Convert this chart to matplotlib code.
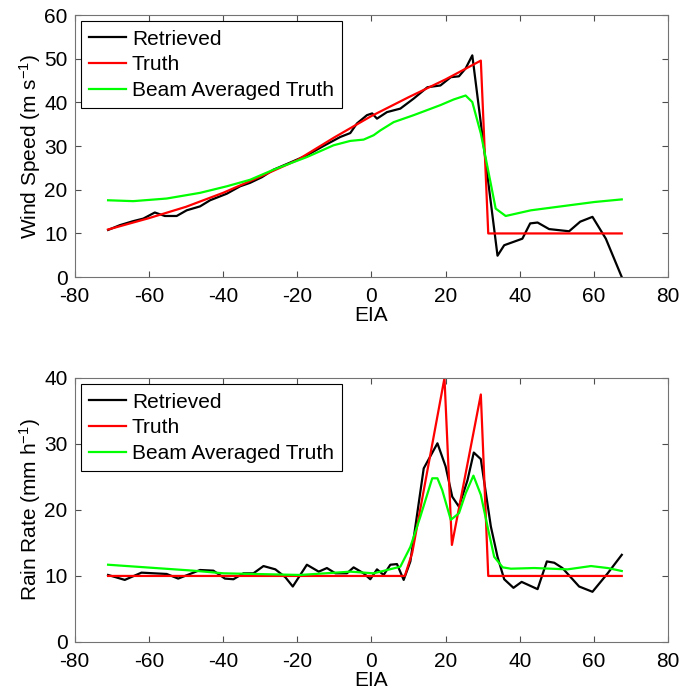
import matplotlib
matplotlib.use('Agg')
import matplotlib.pyplot as plt

plt.rcParams['font.family'] = ['Liberation Sans', 'DejaVu Sans']
plt.rcParams['font.size'] = 15
plt.rcParams['mathtext.default'] = 'regular'
plt.rcParams['axes.unicode_minus'] = False

# wind speed panel
x_ret_w = [-71, -67.8, -64.3, -61.5, -58.4, -55.7, -52.5, -49.8, -46.2, -43.5, -39, -35.4,
           -32.7, -29.5, -26.4, -22, -17.4, -13, -8.4, -5.7, -3.9, -1.2, 0.2, 1.5, 4.2, 7.8,
           11.4, 15.1, 18.6, 21.4, 23.6, 25.4, 27.2, 34, 35.8, 40.7, 42.8, 44.8, 47.9,
           53.3, 56.3, 59.6, 63.2, 67.5]
ret_w = [10.8, 11.9, 12.8, 13.4, 14.8, 14.0, 14.0, 15.3, 16.2, 17.6, 19.1, 20.8,
         21.6, 22.9, 24.6, 26.2, 27.9, 30.0, 32.1, 33.0, 35.2, 37.1, 37.5, 36.3, 37.8, 38.6,
         40.9, 43.5, 43.9, 45.8, 46.0, 47.8, 50.8, 4.9, 7.3, 8.8, 12.3, 12.5, 11.0,
         10.5, 12.7, 13.8, 8.8, 0.0]

x_true_w = [-71, -60, -50, -40, -30, -20, -10, 0, 10, 20, 29.5, 31.5, 67.5]
true_w = [10.9, 13.5, 16.1, 19.3, 23.0, 26.8, 32.0, 36.9, 41.2, 45.3, 49.6, 10, 10]

x_beam_w = [-71, -64.2, -55.2, -46.2, -39, -32.7, -26.4, -17.4, -10.2, -5.7, -2.1, 0.6,
            2.4, 6, 11.4, 18.6, 22.2, 25.4, 27.2, 29.5, 31.3, 33.5, 36.2, 43, 53.8,
            60.1, 67.5]
beam_w = [17.6, 17.4, 18.0, 19.3, 20.8, 22.3, 24.6, 27.5, 30.2, 31.2, 31.5, 32.5,
          33.6, 35.5, 37.1, 39.4, 40.7, 41.6, 40.1, 32.9, 25.2, 15.7, 14.0, 15.3, 16.5,
          17.2, 17.8]

# rain rate panel
x_ret_r = [-71, -66.5, -62, -55.2, -52.1, -48.9, -46.2, -42.6, -39.5, -37.2, -34.5,
           -31.8, -29.1, -25.9, -23.2, -21.2, -17.4, -14.2, -12, -9.7, -6.6, -4.8, -2.1,
           -0.3, 1.5, 3.3, 5.1, 6.9, 8.7, 10.5, 14.1, 17.8, 20, 21.8, 23.6, 25.9, 27.6,
           29.5, 32.2, 34, 35.8, 38.3, 40.5, 44.8, 47.3, 49.3, 51.5, 56, 59.6, 63.7, 67.5]
ret_r = [10.15, 9.4, 10.5, 10.3, 9.6, 10.3, 10.9, 10.8, 9.6, 9.5, 10.4,
         10.4, 11.5, 11.0, 9.8, 8.4, 11.7, 10.65, 11.2, 10.4, 10.4, 11.3, 10.4,
         9.5, 11.0, 10.15, 11.7, 11.8, 9.4, 12.2, 26.3, 30.1, 26.6, 22.0, 20.5, 24.5, 28.7,
         27.7, 17.5, 12.9, 9.5, 8.2, 9.1, 8.0, 12.2, 12.0, 11.2, 8.4, 7.6, 10.4, 13.2]

x_true_r = [-71, 9, 11, 19.7, 21.7, 29.5, 31.5, 67.5]
true_r = [10, 10, 13.5, 40, 14.7, 37.5, 10, 10]

x_beam_r = [-71, -48, -39.9, -19.2, -5.7, 0.6, 7.8, 10.5, 13.2, 16.4, 17.8, 19.1, 21.4,
            23.6, 25.4, 27.5, 29.5, 31.3, 33.1, 35.4, 37.6, 43.9, 52.9, 59.2, 63.7, 67.5]
beam_r = [11.7, 10.8, 10.4, 10.15, 10.65, 10.4, 11.4, 14.4, 19.0, 24.8, 24.8, 23.0, 18.5,
          19.5, 22.5, 25.2, 22.3, 17.5, 12.9, 11.3, 11.1, 11.2, 11.0, 11.5, 11.2, 10.75]

fig = plt.figure(figsize=(6.79, 6.91), dpi=100)
ax1 = fig.add_axes([0.110, 0.599, 0.874, 0.379])
ax2 = fig.add_axes([0.110, 0.071, 0.874, 0.382])

panels = [
    (ax1, x_ret_w, ret_w, x_true_w, true_w, x_beam_w, beam_w, 60, 'Wind Speed (m s$^{-1}$)'),
    (ax2, x_ret_r, ret_r, x_true_r, true_r, x_beam_r, beam_r, 40, 'Rain Rate (mm h$^{-1}$)'),
]

for ax, xr, yr, xt, yt, xb, yb, ymax, ylab in panels:
    ax.plot(xr, yr, color='black', lw=1.6, label='Retrieved')
    ax.plot(xt, yt, color='#ff0000', lw=1.6, label='Truth')
    ax.plot(xb, yb, color='#00ff00', lw=1.6, label='Beam Averaged Truth')
    ax.set_xlim(-80, 80)
    ax.set_ylim(0, ymax)
    ax.set_xticks(range(-80, 81, 20))
    ax.set_yticks(range(0, ymax + 1, 10))
    ax.tick_params(direction='in', top=True, right=True, length=4, width=0.8,
                   color='0.3')
    ax.tick_params(axis='x', pad=7)
    ax.tick_params(axis='y', pad=5)
    for s in ax.spines.values():
        s.set_color('0.45')
        s.set_linewidth(0.8)
    ax.set_xlabel('EIA', labelpad=0)
    ax.set_ylabel(ylab, labelpad=1)
    leg = ax.legend(loc='upper left', fancybox=False, edgecolor='black',
                    framealpha=1, borderaxespad=0.3, handlelength=1.75,
                    handletextpad=0.3, labelspacing=0.32, borderpad=0.4)
    leg.get_frame().set_linewidth(0.8)

fig.savefig('out.png', dpi=100)
